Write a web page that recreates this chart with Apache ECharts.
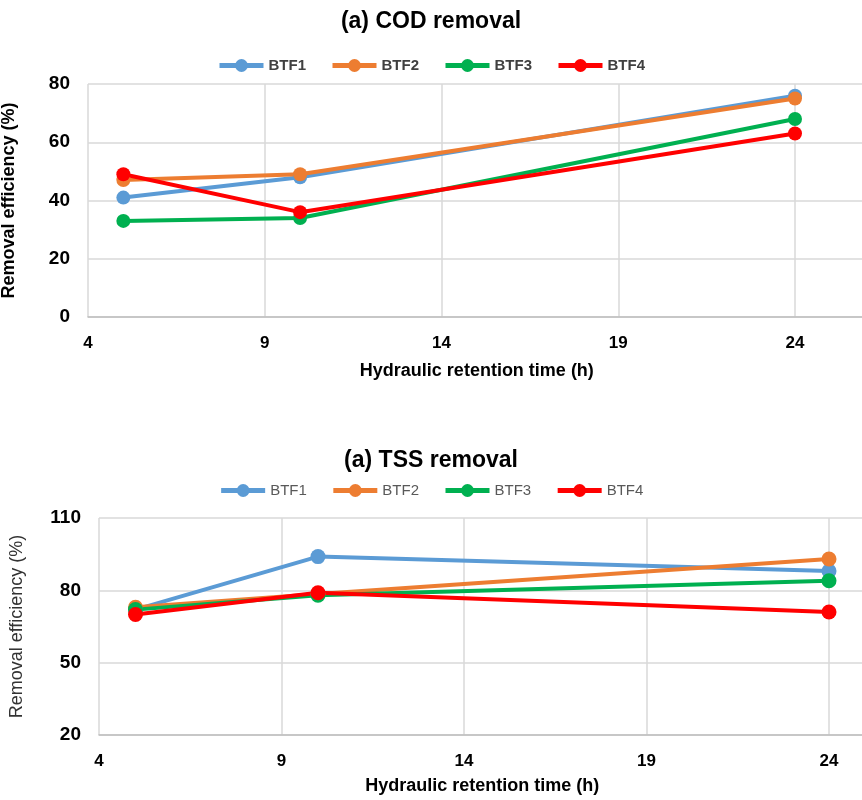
<!DOCTYPE html>
<html><head><meta charset="utf-8">
<script src="https://cdn.jsdelivr.net/npm/echarts@6/dist/echarts.min.js"></script>
<style>html,body{margin:0;padding:0;background:#fff}#c{width:862px;height:800px}</style>
</head><body><div id="c"></div>
<script>
const xHours = [5, 10, 24];
const seriesNames = ['BTF1', 'BTF2', 'BTF3', 'BTF4'];
const colors = ['#5B9BD5', '#ED7D31', '#00B050', '#FF0000'];
const codBTF1 = [41, 48, 76];
const codBTF2 = [47, 49, 75];
const codBTF3 = [33, 34, 68];
const codBTF4 = [49, 36, 63];
const tssBTF1 = [72, 94, 88];
const tssBTF2 = [73, 78.5, 93];
const tssBTF3 = [72, 78, 84];
const tssBTF4 = [70, 79, 71];
const codTicks = [0, 20, 40, 60, 80];
const tssTicks = [20, 50, 80, 110];
const xTicks = [4, 9, 14, 19, 24];

const FONT = "'Liberation Sans', Arial, sans-serif";
const codData = [codBTF1, codBTF2, codBTF3, codBTF4];
const tssData = [tssBTF1, tssBTF2, tssBTF3, tssBTF4];

function pairs(vals){ return xHours.map((x,i)=>[x, vals[i]]); }

function mkX(idx, max){
  return {
    type:'value', gridIndex: idx, min: xTicks[0], max: max, interval: xTicks[1]-xTicks[0],
    name:'Hydraulic retention time (h)', nameLocation:'middle', nameGap: idx===0?45:42,
    nameTextStyle:{fontFamily:FONT, fontWeight:'bold', fontSize:18, color:'#000'},
    axisLine:{show:true, lineStyle:{color:'#bfbfbf', width:1.5}},
    axisTick:{show:false},
    axisLabel:{fontFamily:FONT, fontWeight:'bold', fontSize:17, color:'#000', margin:18, showMaxLabel:false},
    splitLine:{show:true, lineStyle:{color:'#d9d9d9', width:1.5}}
  };
}
function mkY(idx, ticks, bold, gap){
  return {
    type:'value', gridIndex: idx, min: ticks[0], max: ticks[ticks.length-1], interval: ticks[1]-ticks[0],
    name:'Removal efficiency (%)', nameLocation:'middle', nameGap: gap,
    nameTextStyle:{fontFamily:FONT, fontWeight: bold?'bold':'normal', fontSize:18, color: bold?'#000':'#333'},
    axisLine:{show:false}, axisTick:{show:false},
    axisLabel:{fontFamily:FONT, fontWeight:'bold', fontSize:19, color:'#000', margin:18},
    splitLine:{show:true, lineStyle:{color:'#d9d9d9', width:1.5}}
  };
}

const series = [];
seriesNames.forEach((n,i)=>{
  series.push({name:n, type:'line', xAxisIndex:0, yAxisIndex:0, data:pairs(codData[i]),
    symbol:'circle', symbolSize:14, color:colors[i], lineStyle:{width:4, color:colors[i]},
    itemStyle:{color:colors[i]}, emphasis:{disabled:true}});
});
seriesNames.forEach((n,i)=>{
  series.push({name:n, type:'line', xAxisIndex:1, yAxisIndex:1, data:pairs(tssData[i]),
    symbol:'circle', symbolSize:15, color:colors[i], lineStyle:{width:4, color:colors[i]},
    itemStyle:{color:colors[i]}, emphasis:{disabled:true}});
});

const legendCommon = {data:seriesNames, left:'center', itemWidth:44, itemHeight:16, itemGap:24,
  lineStyle:{width:5}};

const chart = echarts.init(document.getElementById('c'), null, {renderer:'canvas'});
chart.setOption({
  animation:false,
  title:[
    {text:'(a) COD removal', left:'center', top:5, textStyle:{fontFamily:FONT, fontWeight:'bold', fontSize:23, color:'#000'}},
    {text:'(a) TSS removal', left:'center', top:444, textStyle:{fontFamily:FONT, fontWeight:'bold', fontSize:23, color:'#000'}}
  ],
  legend:[
    Object.assign({}, legendCommon, {top:53,
     textStyle:{fontFamily:FONT, fontWeight:'bold', fontSize:15, color:'#404040'}}),
    Object.assign({}, legendCommon, {top:478,
     textStyle:{fontFamily:FONT, fontWeight:'normal', fontSize:15, color:'#595959'}})
  ],
  grid:[
    {left:88, top:84, height:233, right:-3.7, containLabel:false, outerBoundsMode:'none'},
    {left:99, top:518, height:217, right:-3.5, containLabel:false, outerBoundsMode:'none'}
  ],
  xAxis:[mkX(0, 26), mkX(1, 25)],
  yAxis:[mkY(0, codTicks, true, 70), mkY(1, tssTicks, false, 73)],
  series: series
});
</script></body></html>
